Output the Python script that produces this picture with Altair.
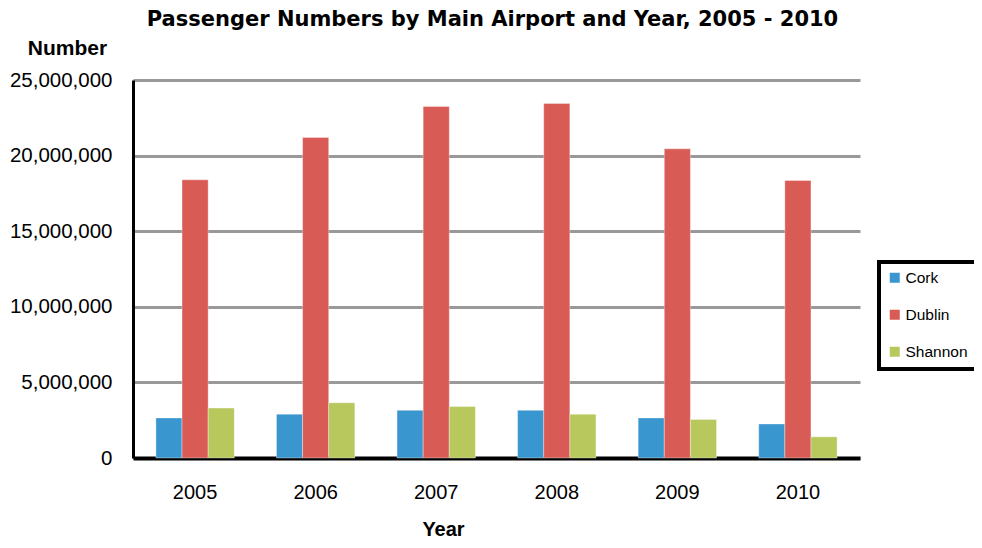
import altair as alt
import pandas as pd

years = ["2005", "2006", "2007", "2008", "2009", "2010"]
airports = ["Cork", "Dublin", "Shannon"]
cork = [2650000, 2900000, 3150000, 3150000, 2650000, 2250000]
dublin = [18400000, 21200000, 23250000, 23450000, 20450000, 18350000]
shannon = [3300000, 3650000, 3400000, 2900000, 2550000, 1400000]
colors = ["#3A96CF", "#D95B55", "#B8C85C"]

rows = []
for i, y in enumerate(years):
    for a, vals in zip(airports, [cork, dublin, shannon]):
        rows.append({"Year": y, "Airport": a, "Passengers": vals[i]})
df = pd.DataFrame(rows)

FONT = "Liberation Sans"

chart = alt.Chart(df).mark_bar(stroke="#ffffff", strokeOpacity=0.35, strokeWidth=1).encode(
    x=alt.X("Year:N", sort=years,
            scale=alt.Scale(paddingInner=0.35, paddingOuter=0.19),
            axis=alt.Axis(title="Year", labelAngle=0, labelFontSize=20, labelPadding=24,
                          labelColor="#000", ticks=False, domainColor="#000", domainWidth=4,
                          titleFontSize=20, titleFontWeight="bold", titleColor="#000",
                          titleX=310, titleY=77, titleAlign="center", titleBaseline="alphabetic",
                          grid=False)),
    xOffset=alt.XOffset("Airport:N", sort=airports),
    y=alt.Y("Passengers:Q",
            scale=alt.Scale(domain=[0, 25000000], nice=False),
            axis=alt.Axis(title="Number", values=[0, 5000000, 10000000, 15000000, 20000000, 25000000],
                          format=",d", labelFontSize=20.5, labelColor="#000", labelPadding=21,
                          ticks=False, domainColor="#000", domainWidth=3,
                          gridColor="#999999", gridWidth=3,
                          titleAngle=0, titleX=-66, titleY=-32, titleAlign="center",
                          titleBaseline="middle", titleFontSize=21, titleFontWeight="bold",
                          titleColor="#000")),
    color=alt.Color("Airport:N", sort=airports,
                    scale=alt.Scale(domain=airports, range=colors),
                    legend=alt.Legend(title=None, orient="none", legendX=746, legendY=182,
                                      symbolType="square", symbolSize=100, symbolStrokeWidth=0,
                                      labelFontSize=15.5, labelColor="#000", labelOffset=3,
                                      rowPadding=20, padding=8,
                                      strokeColor="#000", fillColor="#fff")),
).properties(
    width=727, height=378,
    title=alt.TitleParams("Passenger Numbers by Main Airport and Year, 2005 - 2010",
                          fontSize=21, fontWeight="bold", color="#000", anchor="middle",
                          font="DejaVu Sans", offset=7, dx=-4),
    autosize=alt.AutoSizeParams(type="none"),
    padding={"left": 125, "top": 72, "right": 114, "bottom": 82},
).configure(font=FONT).configure_view(stroke=None).configure_legend(strokeWidth=4)

chart.save("out.html", embed_options={"renderer": "svg", "actions": False})
